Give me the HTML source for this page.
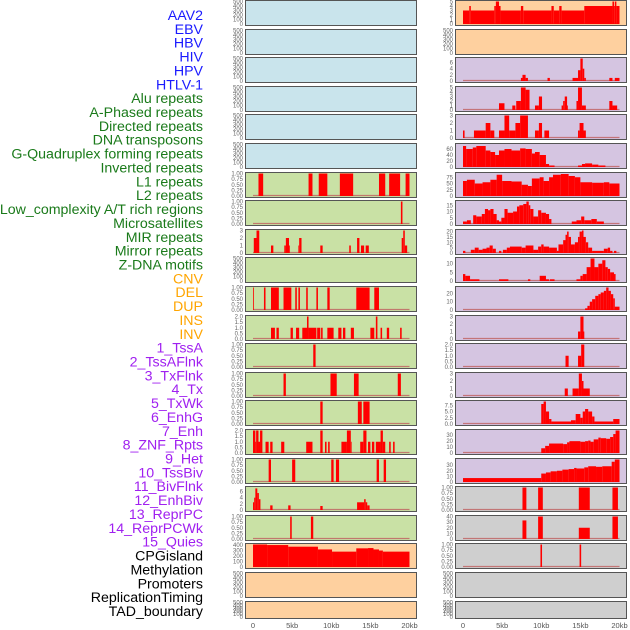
<!DOCTYPE html>
<html><head><meta charset="utf-8"><style>
html,body{margin:0;padding:0;background:#fff;width:630px;height:630px;overflow:hidden}
svg{display:block;font-family:"Liberation Sans",sans-serif}
</style></head><body>
<svg id="chart" width="630" height="630" viewBox="0 0 630 630"></svg>
<script>
const trackLabels=["AAV2","EBV","HBV","HIV","HPV","HTLV-1","Alu repeats","A-Phased repeats","Directed repeats","DNA transposons","G-Quadruplex forming repeats","Inverted repeats","L1 repeats","L2 repeats","Low_complexity A/T rich regions","Microsatellites","MIR repeats","Mirror repeats","Z-DNA motifs","CNV","DEL","DUP","INS","INV","1_TssA","2_TssAFlnk","3_TxFlnk","4_Tx","5_TxWk","6_EnhG","7_Enh","8_ZNF_Rpts","9_Het","10_TssBiv","11_BivFlnk","12_EnhBiv","13_ReprPC","14_ReprPCWk","15_Quies","CPGisland","Methylation","Promoters","ReplicationTiming","TAD_boundary"];
const labelGroups=[6,13,5,15,5];
const groupColors=["#1a1aff","#1a7a1a","#ffa500","#a020f0","#000000"];
const xTickValues=[0,5,10,15,20];
const xTickLabels=["0","5kb","10kb","15kb","20kb"];
const emptyTicks=[0,100,200,300,400,500];
const binTicks=[0,0.25,0.5,0.75,1];
// left column segments [startKb,endKb,value]
const L6=[[0.7,1.3,1],[7.1,7.6,1],[8.4,9.5,1],[11.1,12.8,1],[16.1,16.9,1],[17.4,18.8,1],[19.5,20,1]];
const L7=[[18.9,19.1,1]];
const L8=[[0.1,0.45,2],[0.45,0.8,3],[2.3,2.6,1],[4.0,4.2,1],[4.2,4.6,2],[4.6,4.7,1],[5.8,5.9,1],[5.9,6.2,2],[8.6,8.9,1],[12.3,12.5,1],[13.3,13.6,2],[13.8,14.2,1],[14.4,14.8,1],[19.0,19.2,2],[19.2,19.4,3],[19.4,19.7,1]];
const L10=[[0,0.1,1],[1.4,1.6,1],[2.3,3.3,1],[3.9,4.9,1],[5.4,5.6,1],[5.8,6.0,1],[6.8,7.0,1],[8.1,8.3,1],[9.5,9.8,1],[13.2,14.9,1],[15.5,16.1,1]];
const L11=[[2.3,2.8,1],[3.0,3.3,1],[4.8,5.1,1],[5.5,5.9,1],[6.3,6.9,1],[6.9,7.1,2],[7.1,8.1,1],[8.2,8.6,1],[8.7,8.9,1],[9.5,10.3,1],[10.9,11.3,1],[11.5,11.8,1],[12.5,12.9,1],[15.0,15.5,1],[15.7,15.9,2],[16.3,16.5,1],[17.1,17.4,1],[18.8,19.0,1]];
const L12=[[7.7,8.0,1]];
const L13=[[3.9,4.2,1],[9.9,10.7,1],[12.9,13.5,1],[18.5,18.9,1]];
const L14=[[8.6,8.9,1],[13.4,13.9,1],[14.1,14.9,1]];
const L15=[[0,0.3,2],[0.3,0.4,1],[0.4,0.7,2],[0.7,0.9,1],[0.9,1.2,2],[1.6,2.0,1],[2.2,2.5,1],[3.6,4.0,1],[6.8,7.6,1],[8.6,8.9,2],[9.2,9.4,1],[9.6,9.8,1],[11.3,12.0,1],[12.0,12.5,2],[12.5,12.6,1],[13.7,14.1,1],[14.1,14.5,2],[14.7,15.0,1],[15.2,15.5,1],[15.7,16.3,1],[16.3,16.6,2],[16.6,16.9,1],[17.4,17.6,1],[17.9,18.1,1]];
const L16=[[2.0,2.3,1],[5.0,5.4,1],[10.0,10.3,1],[10.6,11.0,1],[15.8,16.1,1],[16.7,17.0,1]];
const L17=[[0,0.15,2.5],[0.15,0.3,4],[0.3,0.55,7],[0.55,0.75,5.5],[0.75,0.95,3.5],[2.2,2.5,1.5],[4.5,4.8,1.5],[8.6,8.9,1.3],[13.3,14.2,2.5],[14.2,14.4,3.5],[14.4,14.6,2.5],[14.6,14.9,1.5]];
const L18=[[4.75,4.95,1],[7.4,7.7,1]];
const L19=[[0,1.8,410],[1.8,4.5,400],[4.5,8.3,370],[8.3,10.1,320],[10.1,13.2,280],[13.2,14.7,340],[14.7,15.4,345],[15.4,16.1,320],[16.1,16.6,300],[16.6,20,280]];
// right column
const R0=[[0,0.8,3],[0.8,1.0,4],[1.0,4.0,3],[4.0,4.2,4],[4.2,4.6,5],[4.6,4.8,4],[4.8,7.4,3],[7.4,7.7,4],[7.7,11.3,3],[11.3,11.6,4],[11.6,12.3,3],[12.3,12.6,4],[12.6,15.5,3],[15.5,19.1,4],[19.1,19.3,5],[19.3,19.4,4],[19.4,19.6,5],[19.6,20,4]];
const R2=[[7.4,7.6,1],[7.6,8.0,2],[8.0,8.3,1],[10.8,11.1,1],[14.0,14.7,1],[14.7,15.0,3.5],[15.0,15.3,7.3],[15.3,15.5,4],[15.5,15.7,1],[18.7,19.1,1],[19.4,20,1]];
const R3=[[4.6,5.3,1.5],[6.3,6.7,1],[6.8,7.4,2],[7.4,8.0,5],[8.0,8.5,4.5],[9.2,9.7,1],[9.7,10.1,3],[12.6,12.8,1],[12.8,13.0,2],[13.0,13.3,3],[13.3,13.4,1],[14.5,14.7,2],[14.7,15.2,5],[15.2,15.7,1],[18.7,19.1,2],[19.1,19.7,1]];
const R4=[[0,0.2,1],[1.4,2.9,1],[2.9,3.5,2],[3.5,4.0,1],[4.6,5.3,1],[5.3,5.9,3],[5.9,6.7,1],[6.7,7.3,2],[7.3,8.3,3],[9.2,9.7,1],[9.7,10.1,2],[10.4,11.0,1],[14.7,14.9,1],[14.9,15.4,2],[15.4,15.7,1]];
const R5=[[0,0.4,70],[0.4,1.25,60],[1.25,1.7,65],[1.7,2.9,70],[2.9,3.5,55],[3.5,4.1,50],[4.1,4.6,40],[4.6,5.3,55],[5.3,6.2,60],[6.2,7.3,55],[7.3,8.0,62],[8.0,8.8,60],[8.8,9.2,45],[9.2,9.8,50],[9.8,10.6,40],[10.6,11.0,10],[11.0,11.7,5],[14.7,15.2,5],[15.2,15.6,10],[15.6,16.5,12],[16.5,17.3,8],[17.3,18.2,5]];
const R6=[[0,0.5,60],[0.5,1.5,65],[1.5,2.5,50],[2.5,3.5,55],[3.5,4.3,65],[4.3,5.0,85],[5.0,6.2,60],[6.2,7.5,58],[7.5,8.3,45],[8.3,8.8,40],[8.8,9.8,70],[9.8,10.3,75],[10.3,11.0,60],[11.0,11.5,75],[11.5,12.5,85],[12.5,13.5,88],[13.5,14.3,80],[14.3,15.0,75],[15.0,16.5,55],[16.5,18.0,53],[18.0,18.7,55],[18.7,20,50]];
const R7=[[0,0.5,2],[0.5,1.0,3],[1.3,1.7,7],[1.7,2.4,6],[2.4,2.8,8],[2.8,3.2,12],[3.2,3.5,11],[3.5,3.9,12],[3.9,4.3,8],[4.3,4.6,3],[4.6,4.9,2],[4.9,5.3,5],[5.3,5.7,12],[5.7,6.4,9],[6.4,6.9,10],[6.9,7.2,14],[7.2,7.7,15],[7.7,8.1,16],[8.1,8.4,18],[8.4,8.6,15],[8.6,9.0,12],[9.0,9.6,6],[9.6,10.0,11],[10.0,10.6,9],[10.6,11.0,8],[11.0,11.3,4],[13.9,14.5,2],[14.5,15.1,3],[15.1,15.5,6],[15.5,16.4,3],[16.4,17.1,4],[17.1,18.0,2]];
const R8=[[0,0.3,2],[1.0,1.5,3],[1.5,2.0,5],[2.0,2.5,3],[2.5,3.0,4],[3.0,3.4,5],[3.4,3.8,7],[3.8,4.2,4],[4.6,4.9,2],[5.1,5.6,3],[5.6,6.0,5],[6.0,7.5,6],[7.5,8.0,5],[8.0,9.0,7],[9.0,9.6,3],[9.6,10.0,6],[10.0,10.3,8],[10.3,11.0,6],[11.0,12.0,5],[12.0,12.2,2],[12.2,12.8,8],[12.8,13.1,12],[13.1,13.3,17],[13.3,13.5,20],[13.5,13.8,15],[13.8,14.3,8],[14.3,14.7,10],[14.7,14.9,15],[14.9,15.2,20],[15.2,15.4,21],[15.4,15.7,15],[15.7,16.0,10],[16.0,16.5,5],[16.5,18.0,2],[18.0,18.5,4],[18.5,18.8,5],[18.8,19.1,2],[19.3,19.6,2]];
const R9=[[0,0.3,4],[0.3,0.9,3],[0.9,2.1,1],[4.6,5.8,1],[8.3,8.6,1],[9.8,10.6,3],[10.6,11.0,1],[11.1,11.7,1],[14.5,15.0,1],[15.0,15.3,3],[15.3,15.8,4],[15.8,16.3,8],[16.3,16.8,13],[16.8,17.3,8],[17.3,17.8,10],[17.8,18.2,12],[18.2,18.5,8],[18.5,18.8,7],[18.8,19.3,5],[19.3,19.5,4]];
const R10=[[15.6,15.9,2],[15.9,16.2,5],[16.2,16.5,10],[16.5,16.9,13],[16.9,17.3,17],[17.3,17.6,19],[17.6,18.0,21],[18.0,18.3,23],[18.3,18.6,27],[18.6,18.9,23],[18.9,19.2,19],[19.2,19.4,14],[19.4,20,4]];
const R11=[[14.7,15.0,1],[15.0,15.4,3],[15.4,15.5,1]];
const R12=[[13.1,13.5,1],[14.7,15.1,1],[15.1,15.5,2]];
const R13=[[13.0,13.4,1],[14.0,14.8,1],[14.8,15.2,3],[15.2,15.4,2],[15.4,16.2,1]];
const R14=[[10.0,10.3,8],[10.3,10.6,9],[10.6,11.0,5],[11.0,11.3,2],[11.3,13.8,1],[13.8,14.4,1.5],[14.4,15.0,4],[15.0,15.3,2.5],[15.3,15.6,5],[15.6,16.0,6],[16.0,16.5,5],[16.5,16.8,3],[16.8,19.2,1],[19.2,20,2]];
const R15=[[10.0,10.5,8],[10.5,11.0,12],[11.0,12.8,16],[12.8,13.3,15],[13.3,13.6,18],[13.6,15.0,20],[15.0,15.6,19],[15.6,16.0,20],[16.0,16.3,21],[16.3,16.7,19],[16.7,17.3,23],[17.3,17.6,26],[17.6,18.3,25],[18.3,18.8,24],[18.8,19.2,27],[19.2,19.5,32],[19.5,20,38]];
const R16=[[0,10,7],[10,10.6,15],[10.6,11.2,17],[11.2,12,19],[12,12.7,20],[12.7,13.5,22],[13.5,14.2,23],[14.2,14.5,25],[14.5,15.5,24],[15.5,16.0,26],[16.0,17,28],[17,17.8,27],[17.8,19.0,28],[19.0,19.4,36],[19.4,20,40]];
const R17=[[7.6,8.1,1],[9.6,10.2,1],[14.8,16.2,1],[19.1,19.8,1]];
const R18=[[7.6,8.1,33],[9.6,10.2,40],[14.8,16.2,20],[19.1,19.8,40]];
const R19=[[9.9,10.1,1],[14.9,15.1,1]];

const C={blue:"#c9e4ec",peach:"#fed09f",purple:"#d5c5e1",green:"#c9e1a5",gray:"#cfcfcf"};
const leftPanels=[
 [null,500,emptyTicks,0,C.blue],[null,500,emptyTicks,0,C.blue],[null,500,emptyTicks,0,C.blue],[null,500,emptyTicks,0,C.blue],[null,500,emptyTicks,0,C.blue],[null,500,emptyTicks,0,C.blue],
 [L6,1,binTicks,2,C.green],[L7,1,binTicks,2,C.green],[L8,3,[0,1,2,3],0,C.green],[null,500,emptyTicks,0,C.green],[L10,1,binTicks,2,C.green],[L11,2,[0,0.5,1,1.5,2],1,C.green],[L12,1,binTicks,2,C.green],[L13,1,binTicks,2,C.green],[L14,1,binTicks,2,C.green],[L15,2,[0,0.5,1,1.5,2],1,C.green],[L16,1,binTicks,2,C.green],[L17,7.3,[0,2,4,6],0,C.green],[L18,1,binTicks,2,C.green],
 [L19,410,[0,100,200,300,400],0,C.peach],[null,500,emptyTicks,0,C.peach],[null,500,emptyTicks,0,C.peach]];
const rightPanels=[
 [R0,5,[0,1,2,3,4,5],0,C.peach],[null,500,emptyTicks,0,C.peach],
 [R2,7.3,[0,2,4,6],0,C.purple],[R3,5,[0,1,2,3,4,5],0,C.purple],[R4,3,[0,1,2,3],0,C.purple],[R5,75,[0,20,40,60],0,C.purple],[R6,90,[0,25,50,75],0,C.purple],[R7,18,[0,5,10,15],0,C.purple],[R8,21,[0,5,10,15,20],0,C.purple],[R9,13,[0,5,10],0,C.purple],[R10,27,[0,10,20],0,C.purple],[R11,3,[0,1,2,3],0,C.purple],[R12,2,[0,0.5,1,1.5,2],1,C.purple],[R13,3,[0,1,2,3],0,C.purple],[R14,9,[0,2.5,5,7.5],1,C.purple],[R15,38,[0,10,20,30],0,C.purple],[R16,40,[0,10,20,30],0,C.purple],
 [R17,1,binTicks,2,C.gray],[R18,40,[0,10,20,30,40],0,C.gray],[R19,1,binTicks,2,C.gray],[null,500,emptyTicks,0,C.gray],[null,500,emptyTicks,0,C.gray]];

const NS="http://www.w3.org/2000/svg";
const svg=document.getElementById('chart');
function mk(tag,attrs,parent){const e=document.createElementNS(NS,tag);for(const k in attrs)e.setAttribute(k,attrs[k]);(parent||svg).appendChild(e);return e;}

let li=0;
labelGroups.forEach((n,g)=>{for(let k=0;k<n;k++){const t=mk('text',{x:203,y:20+li*13.86,'text-anchor':'end','font-size':'14.2',fill:groupColors[g]});t.textContent=trackLabels[li];


li++;}});

function xScale(px0,kb){return px0+kb*(156.5/20);}
function drawPanel(p,i,colX,x0,side){
  const [segs,ymax,ticks,dec,fill]=p;
  const top=Math.round(i*28.6)+0.5, h=(i===21)?17:25;
  const g=mk('g',{});
  
  
  mk('rect',{x:colX+0.5,y:top,width:171,height:h,fill:fill,stroke:'#555','stroke-width':1},g);
  const yb=top+h-1.5, yt=top+1;
  const ys=v=>yb-(v/ymax)*(yb-yt);
  if(segs){
    mk('line',{x1:xScale(x0,0),x2:xScale(x0,20),y1:yb-0.5,y2:yb-0.5,stroke:'#c06060','stroke-width':1.2,opacity:0.8},g);
    segs.forEach(s=>{const r=mk('rect',{x:xScale(x0,s[0]),y:ys(s[2]),width:Math.max(0.8,xScale(x0,s[1])-xScale(x0,s[0])),height:yb-ys(s[2]),fill:'#ff0000'},g);
    
    });
  }
  ticks.forEach(t=>{const tx=mk('text',{x:colX-2,y:ys(t)+2,'text-anchor':'end','font-size':'6',fill:'#666'},g);tx.textContent=t.toFixed(dec);
    
    });
}
leftPanels.forEach((p,i)=>drawPanel(p,i,245,253,'left'));
rightPanels.forEach((p,i)=>drawPanel(p,i,455,463,'right'));
[253,463].forEach(x0=>{xTickValues.forEach((v,k)=>{const t=mk('text',{x:xScale(x0,v),y:628,'text-anchor':'middle','font-size':'7.5',fill:'#555'});t.textContent=xTickLabels[k];

});});
</script>
</body></html>
